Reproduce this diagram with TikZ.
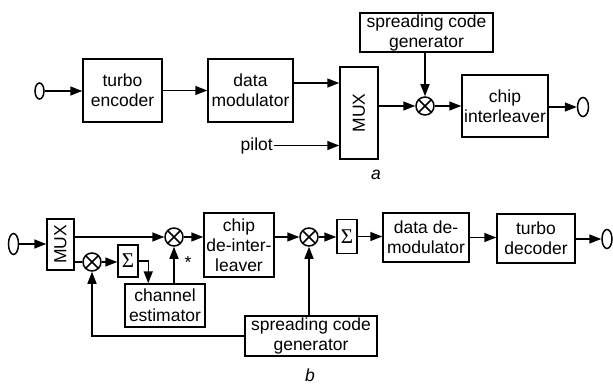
\documentclass[tikz,border=0pt]{standalone}
\usepackage{fontspec}
\setmainfont{Liberation Sans}
\newfontfamily\sigmafont{Liberation Serif}
\usepackage{tikz}
\usetikzlibrary{arrows.meta,positioning,calc,shapes.geometric}
\definecolor{ink}{HTML}{000000}
\tikzset{
  block/.style={draw=ink,line width=1.5pt,align=center,inner sep=1pt,fill=white},
  arr/.style={-{Triangle[length=12pt,width=9pt]},line width=1.5pt,draw=ink},
  wire/.style={line width=1.5pt,draw=ink},
  mixer/.style={circle,draw=ink,line width=1.5pt,minimum size=18pt,inner sep=0pt,
    path picture={\draw[line width=1.5pt] (path picture bounding box.north west)--(path picture bounding box.south east)
      (path picture bounding box.north east)--(path picture bounding box.south west);}},
  port/.style={ellipse,draw=ink,line width=1.5pt,inner sep=0pt}
}
\newcommand{\sumsign}{{\sigmafont\fontsize{21}{21}\selectfont Σ}}

\begin{document}
\begin{tikzpicture}[x=1pt,y=-1pt,font=\fontsize{17.5}{20}\selectfont]
 \useasboundingbox (0,0) rectangle (613,385);
 % a: transmitter
 \node[port,minimum width=9pt,minimum height=16pt] (inA) at (39.5,91) {};
 \node[block,minimum width=79pt,minimum height=63pt] (enc) at (122.5,90.5) {turbo\\encoder};
 \node[block,minimum width=85pt,minimum height=63pt] (mod) at (250.5,90.5) {data\\modulator};
 \node[block,minimum width=38pt,minimum height=92pt,label={[rotate=90]center:MUX}] (muxA) at (359,113) {};
 \node[anchor=east,inner sep=1pt] (pilot) at (274,145.5) {pilot};
 \node[mixer] (mulA) at (425,106) {};
 \node[block,minimum width=133pt,minimum height=39pt] (spreadA) at (426.5,32.5) {spreading code\\generator};
 \node[block,minimum width=86pt,minimum height=62pt] (ilv) at (505,106) {chip\\interleaver};
 \node[port,minimum width=11pt,minimum height=19pt] (outA) at (583,107) {};
 \node (capA) at (376,175) {\textit{a}};
 \draw[arr] (inA) -- (inA -| enc.west);
 \draw[arr] (enc) -- (mod);
 \draw[arr] ([yshift=7.5pt]mod.east) -- ([yshift=7.5pt]mod.east -| muxA.west);
 \draw[arr] (pilot.east) -- (pilot.east -| muxA.west);
 \draw[arr] (mulA -| muxA.east) -- (mulA);
 \draw[arr] (spreadA.south -| mulA) -- (mulA);
 \draw[arr] (mulA) -- (mulA -| ilv.west);
 \draw[arr] (outA -| ilv.east) -- (outA);
 % b: receiver
 \node[port,minimum width=10pt,minimum height=21pt] (inB) at (13.5,244) {};
 \node[block,minimum width=27pt,minimum height=51pt,label={[rotate=90]center:MUX}] (muxB) at (60.5,244.5) {};
 \node[mixer] (mul1) at (174,237) {};
 \node[mixer] (mul2) at (92,262) {};
 \node[block,minimum width=20pt,minimum height=32pt] (sum1) at (128,261) {\sumsign};
 \node[block,minimum width=80pt,minimum height=43pt] (est) at (165,305.5) {channel\\estimator};
 \node[block,minimum width=70pt,minimum height=64pt] (dei) at (239,245) {chip\\de-inter-\\leaver};
 \node[mixer] (mul3) at (309,237) {};
 \node[block,minimum width=20pt,minimum height=34pt] (sum2) at (347,236.5) {\sumsign};
 \node[block,minimum width=86pt,minimum height=49pt] (dem) at (426,237.5) {data de-\\modulator};
 \node[block,minimum width=78pt,minimum height=49pt] (dec) at (536,238.5) {turbo\\decoder};
 \node[port,minimum width=10pt,minimum height=19pt] (outB) at (607,239) {};
 \node[block,minimum width=132pt,minimum height=40pt] (spreadB) at (311,336) {spreading code\\generator};
 \node[inner sep=0pt] (star) at (188,262) {*};
 \node[inner sep=0pt] (capB) at (310,375) {\textit{b}};
 \draw[arr] (inB) -- (inB -| muxB.west);
 \draw[arr] (mul1 -| muxB.east) -- (mul1);
 \draw[wire] (mul2 -| muxB.east) -- (mul2);
 \draw[arr] (mul2) -- (mul2 -| sum1.west);
 \draw[arr] (sum1.east) -| ([xshift=24pt]est.north west);
 \draw[arr] (est.north -| mul1) -- (mul1);
 \draw[arr] (mul1) -- (mul1 -| dei.west);
 \draw[arr] (mul3 -| dei.east) -- (mul3);
 \draw[arr] (spreadB.north -| mul3) -- (mul3);
 \draw[arr] (spreadB.west) -| (mul2);
 \draw[arr] (mul3) -- (mul3 -| sum2.west);
 \draw[arr] (sum2) -- (sum2 -| dem.west);
 \draw[arr] (dem) -- (dem -| dec.west);
 \draw[arr] (outB -| dec.east) -- (outB);
\end{tikzpicture}
\end{document}
